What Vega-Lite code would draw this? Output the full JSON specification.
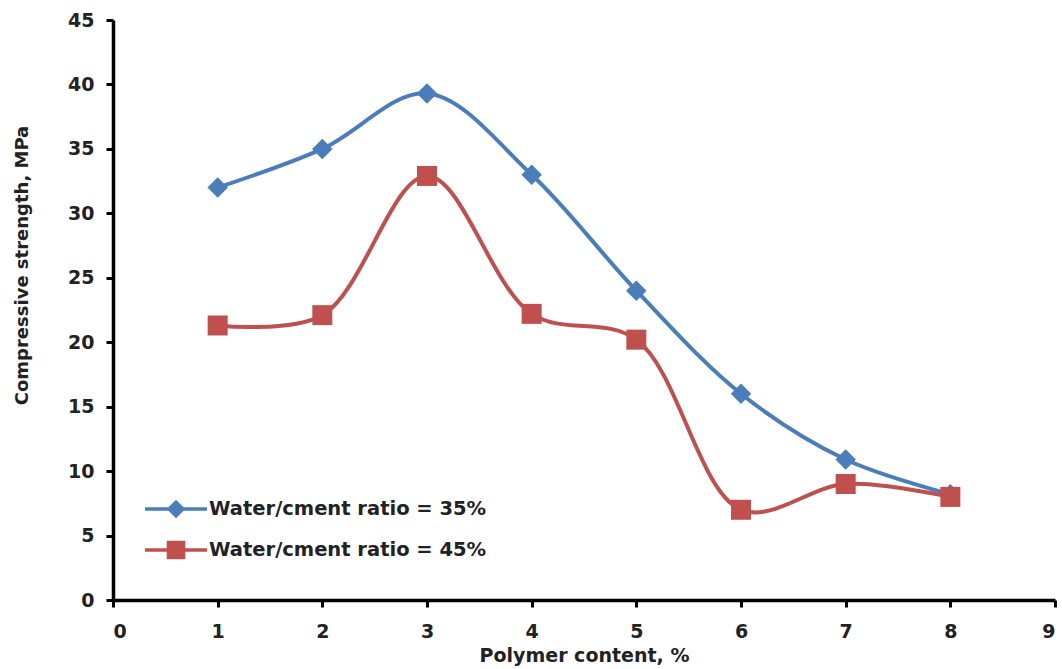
{
  "$schema": "https://vega.github.io/schema/vega-lite/v6.json",
  "autosize": "none",
  "width": 942,
  "height": 580,
  "padding": {"left": 113, "top": 20, "right": 7, "bottom": 69},
  "background": "white",
  "config": {
    "view": {"stroke": null},
    "font": "DejaVu Sans",
    "axis": {
      "grid": false,
      "domainColor": "black",
      "domainWidth": 3.5,
      "tickColor": "black",
      "tickWidth": 3,
      "tickSize": 7,
      "labelFont": "DejaVu Sans",
      "labelFontWeight": "bold",
      "labelFontSize": 19,
      "labelColor": "#222",
      "titleFont": "DejaVu Sans",
      "titleFontWeight": "bold",
      "titleColor": "#222"
    }
  },
  "data": {
    "values": [
      {"p": 1, "s": 32.0, "series": "Water/cment ratio = 35%"},
      {"p": 2, "s": 35.0, "series": "Water/cment ratio = 35%"},
      {"p": 3, "s": 39.3, "series": "Water/cment ratio = 35%"},
      {"p": 4, "s": 33.0, "series": "Water/cment ratio = 35%"},
      {"p": 5, "s": 24.0, "series": "Water/cment ratio = 35%"},
      {"p": 6, "s": 16.0, "series": "Water/cment ratio = 35%"},
      {"p": 7, "s": 10.9, "series": "Water/cment ratio = 35%"},
      {"p": 8, "s": 8.2, "series": "Water/cment ratio = 35%"},
      {"p": 1, "s": 21.3, "series": "Water/cment ratio = 45%"},
      {"p": 2, "s": 22.1, "series": "Water/cment ratio = 45%"},
      {"p": 3, "s": 32.9, "series": "Water/cment ratio = 45%"},
      {"p": 4, "s": 22.2, "series": "Water/cment ratio = 45%"},
      {"p": 5, "s": 20.2, "series": "Water/cment ratio = 45%"},
      {"p": 6, "s": 7.0, "series": "Water/cment ratio = 45%"},
      {"p": 7, "s": 9.0, "series": "Water/cment ratio = 45%"},
      {"p": 8, "s": 8.0, "series": "Water/cment ratio = 45%"}
    ]
  },
  "encoding": {
    "x": {
      "field": "p", "type": "quantitative",
      "scale": {"domain": [0, 9], "nice": false, "zero": false},
      "axis": {"values": [0,1,2,3,4,5,6,7,8,9], "title": "Polymer content, %", "titleFontSize": 19, "labelPadding": 15, "titlePadding": 5, "format": "d"}
    },
    "y": {
      "field": "s", "type": "quantitative",
      "scale": {"domain": [0, 45], "nice": false},
      "axis": {"values": [0,5,10,15,20,25,30,35,40,45], "title": "Compressive strength, MPa", "titleFontSize": 18, "labelPadding": 12, "titleX": -91, "titleY": 245, "titleBaseline": "middle", "titleAngle": -90}
    },
    "color": {
      "field": "series", "type": "nominal",
      "scale": {"domain": ["Water/cment ratio = 35%", "Water/cment ratio = 45%"], "range": ["#4A7EBB", "#C0504D"]}
    }
  },
  "layer": [
    {
      "mark": {"type": "line", "interpolate": "catmull-rom", "strokeWidth": 4},
      "encoding": {
        "color": {
          "field": "series", "type": "nominal",
          "scale": {"domain": ["Water/cment ratio = 35%", "Water/cment ratio = 45%"], "range": ["#4A7EBB", "#C0504D"]},
          "legend": {
            "title": null,
            "orient": "none",
            "legendX": 32,
            "legendY": 458,
            "symbolSize": 3844,
            "symbolType": "M-1,-0.06L1,-0.06L1,0.06L-1,0.06Z",
            "labelFont": "DejaVu Sans",
            "labelFontWeight": "bold",
            "labelFontSize": 19.5,
            "labelColor": "#222",
            "labelOffset": 2,
            "rowPadding": -17,
            "labelLimit": 400,
            "encode": {
              "symbols": {
                "update": {
                  "shape": {"signal": "datum.value === 'Water/cment ratio = 35%' ? 'M-1,-0.06L1,-0.06L1,0.06L-1,0.06Z M0,-0.3L0.3,0L0,0.3L-0.3,0Z' : 'M-1,-0.06L1,-0.06L1,0.06L-1,0.06Z M-0.3,-0.3L0.3,-0.3L0.3,0.3L-0.3,0.3Z'"},
                  "fill": {"signal": "scale('color', datum.value)"},
                  "fillOpacity": {"value": 1},
                  "strokeWidth": {"value": 0}
                }
              }
            }
          }
        }
      }
    },
    {
      "transform": [{"filter": "datum.series === 'Water/cment ratio = 35%'"}],
      "mark": {"type": "point", "filled": true, "opacity": 1, "size": 420, "shape": "diamond", "color": "#4A7EBB"},
      "encoding": {"color": {"value": "#4A7EBB"}}
    },
    {
      "transform": [{"filter": "datum.series === 'Water/cment ratio = 45%'"}],
      "mark": {"type": "point", "filled": true, "opacity": 1, "size": 400, "shape": "square", "color": "#C0504D"},
      "encoding": {"color": {"value": "#C0504D"}}
    }
  ]
}
